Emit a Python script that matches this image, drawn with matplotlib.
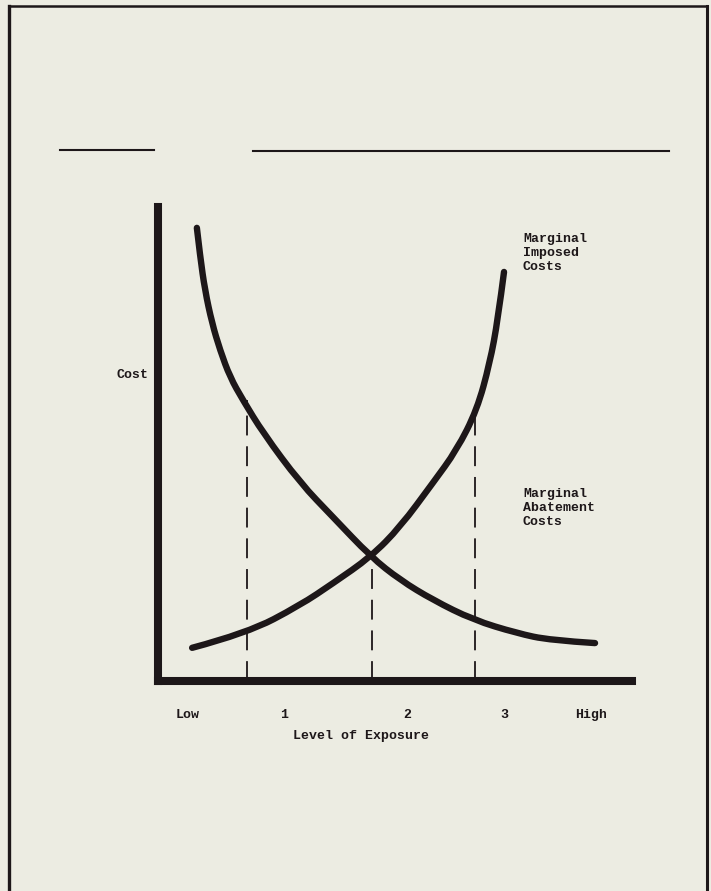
import matplotlib
matplotlib.use("Agg")
import matplotlib.pyplot as plt
from matplotlib.lines import Line2D
from matplotlib.path import Path
from matplotlib.patches import PathPatch

# ---- data (axes units 0..100) ----
abatement_x = [8.2, 8.9, 9.9, 11.4, 13.1, 15.2, 17.9, 22.2, 30.0, 36.9, 44.9, 51.1, 58.0, 66.5, 75.7, 82.7, 92.2]
abatement_y = [95.6, 89.5, 82.5, 75.5, 69.8, 64.1, 59.3, 52.3, 41.8, 34.6, 26.2, 21.3, 17.1, 12.9, 10.1, 8.6, 8.0]

imposed_x = [7.2, 18.8, 30.0, 36.9, 44.9, 51.1, 58.0, 63.0, 67.3, 70.0, 71.7, 73.0]
imposed_y = [7.0, 10.1, 16.0, 20.6, 26.2, 32.5, 41.8, 48.7, 57.2, 67.1, 76.2, 86.3]

dash_x = [18.8, 45.1, 66.9]
dash_top = [59.3, 26.2, 57.2]

level_labels = ["Low", "1", "2", "3", "High"]
level_pos = [6.3, 26.6, 52.5, 73.0, 91.4]

BG = "#ecece2"
INK = "#1d1719"
FONT = dict(family="Liberation Mono", weight="bold", size=9.5, color=INK)

W, H = 711, 891
fig = plt.figure(figsize=(W / 100, H / 100), dpi=100, facecolor=BG)


def fx(px):
    return px / W


def fy(py):
    return 1 - py / H


# page border and top rules (figure coordinates)
fig.add_artist(Line2D([fx(9), fx(9)], [fy(6), fy(891)], color=INK, lw=2.4))
fig.add_artist(Line2D([fx(707), fx(707)], [fy(6), fy(891)], color=INK, lw=2.2))
fig.add_artist(Line2D([fx(9), fx(707)], [fy(6), fy(6)], color=INK, lw=1.8))
fig.add_artist(Line2D([fx(60), fx(154)], [fy(150), fy(150)], color=INK, lw=1.5))
fig.add_artist(Line2D([fx(253), fx(669)], [fy(151), fy(151)], color=INK, lw=1.5))

ax = fig.add_axes([fx(158), fy(681), (632 - 158) / W, (681 - 207) / H])
ax.set_facecolor("none")
ax.set_xlim(0, 100)
ax.set_ylim(0, 100)

for s in ["top", "right"]:
    ax.spines[s].set_visible(False)
for s in ["left", "bottom"]:
    ax.spines[s].set_linewidth(5.8)
    ax.spines[s].set_color(INK)
    ax.spines[s].set_capstyle("projecting")


def smooth_curve(xs, ys):
    """Quadratic B-spline path using the read points as control points."""
    pts = list(zip(xs, ys))
    verts = [pts[0]]
    codes = [Path.MOVETO]
    for i in range(1, len(pts) - 1):
        mid = ((pts[i][0] + pts[i + 1][0]) / 2, (pts[i][1] + pts[i + 1][1]) / 2)
        if i == len(pts) - 2:
            mid = pts[-1]
        verts += [pts[i], mid]
        codes += [Path.CURVE3, Path.CURVE3]
    return Path(verts, codes)


for xs, ys in [(abatement_x, abatement_y), (imposed_x, imposed_y)]:
    patch = PathPatch(smooth_curve(xs, ys), facecolor="none", edgecolor=INK,
                      lw=4.6, capstyle="round", joinstyle="round")
    ax.add_patch(patch)

for x, t in zip(dash_x, dash_top):
    ax.plot([x, x], [0, t], color=INK, lw=1.3, linestyle=(0, (11, 6)))

ax.set_yticks([])
ax.set_xticks(level_pos)
ax.set_xticklabels(level_labels, fontdict=FONT)
ax.tick_params(axis="x", length=0, pad=20)

ax.text(42.8, -11.6, "Level of Exposure", ha="center", va="center", **FONT)
ax.text(-2.1, 64.6, "Cost", ha="right", va="center", **FONT)
ax.text(77.0, 90.3, "Marginal\nImposed\nCosts", ha="left", va="center", linespacing=1.2, **FONT)
ax.text(77.0, 36.5, "Marginal\nAbatement\nCosts", ha="left", va="center", linespacing=1.2, **FONT)

fig.savefig("out.png", dpi=100, facecolor=BG)
